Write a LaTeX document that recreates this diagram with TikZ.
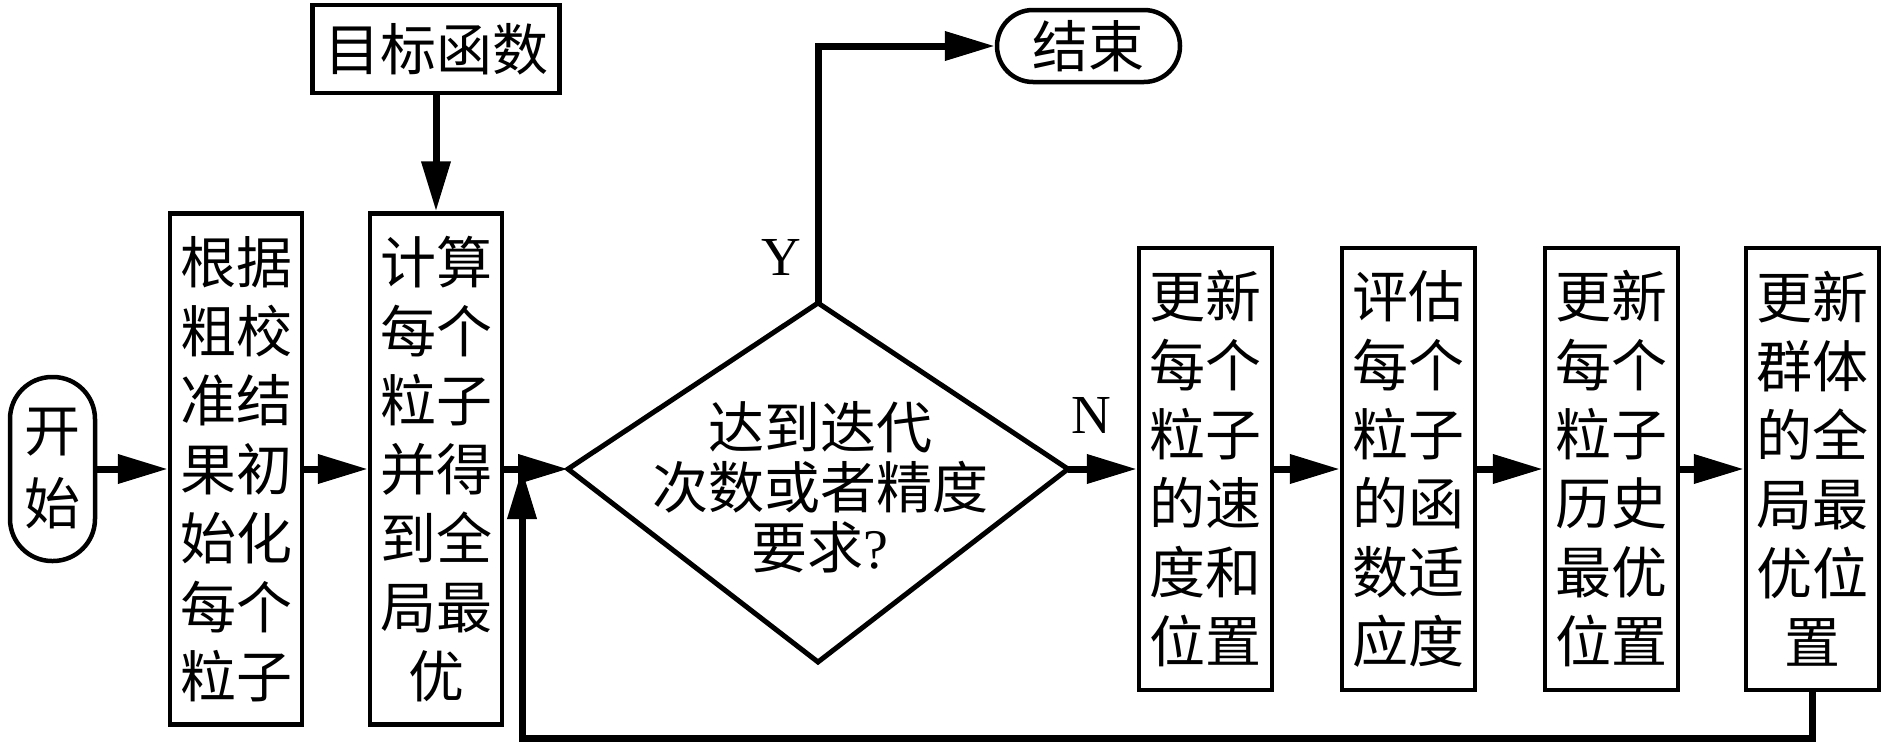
\documentclass[tikz,border=0pt]{standalone}
\usepackage{fontspec}
\setmainfont{Liberation Serif}
\newfontfamily\cjk{Noto Sans CJK SC}
\usetikzlibrary{arrows.meta}
\begin{document}
\begin{tikzpicture}[x=1pt,y=-1pt,
  box/.style={draw,line width=4.5pt,inner sep=0pt,align=center,
    font=\cjk\fontsize{56}{69}\selectfont},
  tallbox/.style={box,minimum width=132pt,minimum height=511pt},
  stepbox/.style={box,minimum width=133pt,minimum height=442pt},
  conn/.style={line width=7pt,-{Triangle[length=50pt,width=28pt]}},
  lbl/.style={font=\fontsize{55}{55}\selectfont,inner sep=0pt}]
\useasboundingbox (0,0) rectangle (1890,744);
% start / end
\node[box,minimum width=85pt,minimum height=184pt,rounded corners=42pt,
  font=\cjk\fontsize{56}{73}\selectfont] (start) at (52.5,469) {开\\始};
\node[box,minimum width=183pt,minimum height=72pt,rounded corners=36pt] (end) at (1088.5,46) {结束};
% left boxes
\node[tallbox] (init) at (236,469) {根据\\粗校\\准结\\果初\\始化\\每个\\粒子};
\node[tallbox] (calc) at (436,469) {计算\\每个\\粒子\\并得\\到全\\局最\\优};
\node[box,minimum width=247pt,minimum height=88pt] (obj) at (436,49) {目标函数};
% decision
\coordinate (dl) at (568,469);
\coordinate (dt) at (818,303);
\coordinate (dr) at (1068,469);
\coordinate (db) at (818,662);
\draw[line width=5pt] (dl) -- (dt) -- (dr) -- (db) -- cycle;
\node[align=center,inner sep=0pt,font=\cjk\fontsize{56}{60}\selectfont] (q) at (820,487)
  {达到迭代\\次数或者精度\\要求{\rmfamily ?}};
% right boxes
\node[stepbox] (b3) at (1205.5,469) {更新\\每个\\粒子\\的速\\度和\\位置};
\node[stepbox] (b4) at (1408.5,469) {评估\\每个\\粒子\\的函\\数适\\应度};
\node[stepbox] (b5) at (1611.5,469) {更新\\每个\\粒子\\历史\\最优\\位置};
\node[stepbox] (b6) at (1812.5,469) {更新\\群体\\的全\\局最\\优位\\置};
% labels
\node[lbl] (Y) at (781,257) {Y};
\node[lbl] (N) at (1091,415) {N};
% connectors
\coordinate (join) at (522,469);
\coordinate (fb) at (522,738);
\draw[conn] (start.east) -- (init.west);
\draw[conn] (init.east) -- (calc.west);
\draw[conn] (obj.south) -- (calc.north);
\draw[conn] (calc.east) -- (dl);
\draw[conn] (dt) |- (end.west);
\draw[conn] (dr) -- (b3.west);
\draw[conn] (b3.east) -- (b4.west);
\draw[conn] (b4.east) -- (b5.west);
\draw[conn] (b5.east) -- (b6.west);
\draw[conn] (b6.south) |- (fb) -- (join);
\end{tikzpicture}
\end{document}
